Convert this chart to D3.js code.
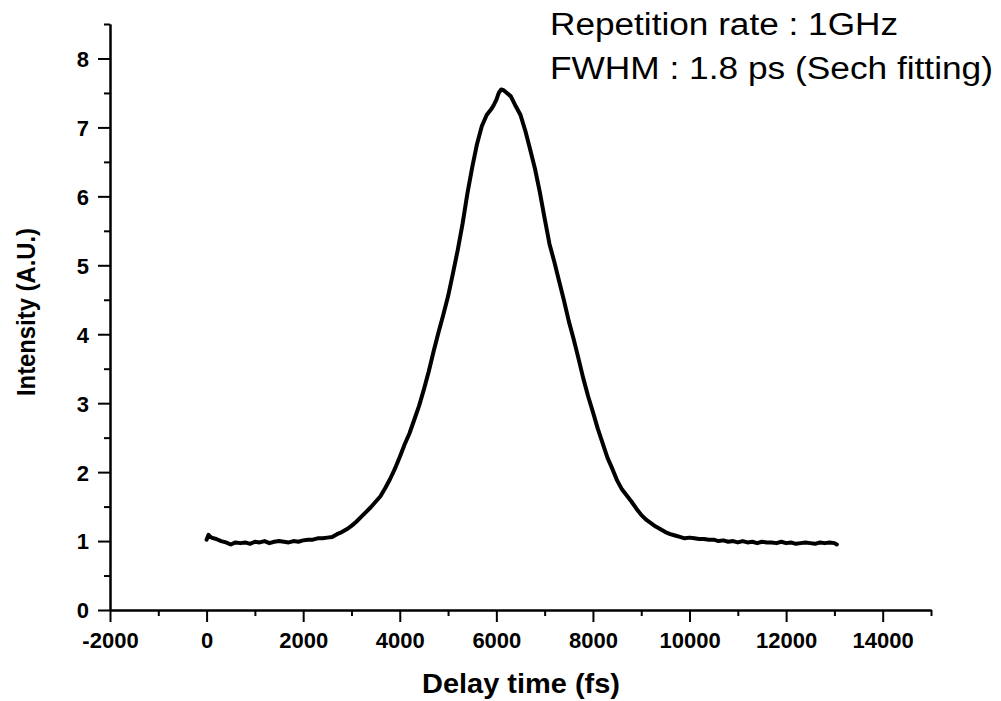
<!DOCTYPE html>
<html>
<head>
<meta charset="utf-8">
<script src="https://cdn.jsdelivr.net/npm/d3@7/dist/d3.min.js"></script>
<style>
  html, body { margin: 0; padding: 0; background: #fff; }
  svg { display: block; }
  text { font-family: "Liberation Sans", Arial, Helvetica, sans-serif; fill: #000; }
</style>
</head>
<body>
<svg id="chart" width="1001" height="701"></svg>
<script>
// Delay time (fs)
const delayTime = [0, 40, 100, 200, 300, 400, 500, 600, 700, 800, 900, 1000, 1100, 1200, 1300, 1400, 1500, 1600, 1700, 1800, 1900,
  2000, 2100, 2200, 2300, 2400, 2500, 2600, 2700, 2800, 2900, 3000, 3100, 3200, 3300, 3400, 3500, 3600, 3700, 3800, 3900,
  4000, 4100, 4200, 4300, 4400, 4500, 4600, 4700, 4800, 4900, 5000, 5100, 5200, 5300, 5400, 5500, 5600, 5700, 5800, 5900,
  5950, 6000, 6050, 6100, 6150, 6200, 6300, 6400, 6500, 6600, 6700, 6800, 6900, 7000, 7100, 7200, 7300, 7400, 7500, 7600,
  7700, 7800, 7900, 8000, 8100, 8200, 8300, 8400, 8500, 8600, 8700, 8800, 8900, 9000, 9100, 9200, 9300, 9400, 9500, 9600,
  9700, 9800, 9900, 10000, 10100, 10200, 10300, 10400, 10500, 10600, 10700, 10800, 10900, 11000, 11100, 11200, 11300, 11400,
  11500, 11600, 11700, 11800, 11900, 12000, 12100, 12200, 12300, 12400, 12500, 12600, 12700, 12800, 12900, 13000, 13050];
// Intensity (A.U.)
const intensity = [1.02, 1.09, 1.05, 1.03, 1.00, 0.98, 0.95, 0.98, 0.97, 0.98, 0.96, 0.99, 0.98, 1.00, 0.97, 0.99, 1.00, 0.99, 0.98, 1.00, 0.99,
  1.01, 1.02, 1.02, 1.04, 1.04, 1.05, 1.06, 1.10, 1.13, 1.17, 1.22, 1.28, 1.35, 1.42, 1.49, 1.57, 1.65, 1.77, 1.90, 2.05,
  2.22, 2.40, 2.56, 2.76, 2.96, 3.20, 3.46, 3.75, 4.02, 4.28, 4.55, 4.88, 5.22, 5.60, 6.04, 6.42, 6.76, 7.02, 7.18, 7.27,
  7.33, 7.40, 7.50, 7.55, 7.54, 7.51, 7.45, 7.31, 7.18, 6.95, 6.68, 6.40, 6.06, 5.68, 5.31, 5.05, 4.77, 4.49, 4.19, 3.93,
  3.65, 3.36, 3.10, 2.87, 2.63, 2.42, 2.21, 2.05, 1.88, 1.75, 1.66, 1.57, 1.47, 1.38, 1.31, 1.26, 1.21, 1.17, 1.13, 1.10,
  1.08, 1.06, 1.04, 1.05, 1.04, 1.03, 1.03, 1.02, 1.02, 1.00, 1.01, 0.99, 1.00, 0.98, 1.00, 0.98, 0.99, 0.97,
  0.99, 0.98, 0.98, 0.97, 0.99, 0.97, 0.98, 0.96, 0.97, 0.98, 0.97, 0.96, 0.98, 0.97, 0.98, 0.97, 0.95];

const xMajorTicks = [-2000, 0, 2000, 4000, 6000, 8000, 10000, 12000, 14000];
const xMinorTicks = [-1000, 1000, 3000, 5000, 7000, 9000, 11000, 13000, 15000];
const yMajorTicks = [0, 1, 2, 3, 4, 5, 6, 7, 8];
const yMinorTicks = [0.5, 1.5, 2.5, 3.5, 4.5, 5.5, 6.5, 7.5, 8.5];
const xTitle = "Delay time (fs)";
const yTitle = "Intensity (A.U.)";
const notes = ["Repetition rate : 1GHz", "FWHM : 1.8 ps (Sech fitting)"];

const svg = d3.select("#chart");
const mLeft = 110, mRight = 931, mTop = 24, mBottom = 610;

const x = d3.scaleLinear().domain([-2000, 15000]).range([mLeft, mRight]);
const y = d3.scaleLinear().domain([0, 8.5]).range([mBottom, mTop]);

function styleAxis(g) {
  g.selectAll("path.domain").attr("stroke", "#000").attr("stroke-width", 2);
  g.selectAll(".tick line").attr("stroke", "#000").attr("stroke-width", 2);
}

// minor ticks
svg.append("g").attr("transform", `translate(0,${mBottom})`)
  .call(d3.axisBottom(x).tickValues(xMinorTicks).tickSize(6).tickSizeOuter(0).tickFormat(""))
  .call(styleAxis);
svg.append("g").attr("transform", `translate(${mLeft},0)`)
  .call(d3.axisLeft(y).tickValues(yMinorTicks).tickSize(6).tickSizeOuter(0).tickFormat(""))
  .call(styleAxis);

// major ticks
const plainFmt = d => String(d);
const gx = svg.append("g").attr("transform", `translate(0,${mBottom})`)
  .call(d3.axisBottom(x).tickValues(xMajorTicks).tickSize(12).tickSizeOuter(0).tickFormat(plainFmt))
  .call(styleAxis);
gx.selectAll(".tick text")
  .attr("y", 38).attr("dy", 0)
  .style("font-size", "22px").style("font-weight", "bold")
  .style("font-family", "'Liberation Sans', Arial, sans-serif").attr("fill", "#000");

const gy = svg.append("g").attr("transform", `translate(${mLeft},0)`)
  .call(d3.axisLeft(y).tickValues(yMajorTicks).tickSize(12).tickSizeOuter(0).tickFormat(plainFmt))
  .call(styleAxis);
gy.selectAll(".tick text")
  .attr("x", -21).attr("dy", "0.36em")
  .style("font-size", "22px").style("font-weight", "bold")
  .style("font-family", "'Liberation Sans', Arial, sans-serif").attr("fill", "#000");

// data line
const data = delayTime.map((d, i) => ({ t: d, v: intensity[i] }));
svg.append("path")
  .datum(data)
  .attr("fill", "none")
  .attr("stroke", "#000")
  .attr("stroke-width", 4)
  .attr("stroke-linejoin", "round")
  .attr("stroke-linecap", "round")
  .attr("d", d3.line().x(d => x(d.t)).y(d => y(d.v)));

// axis titles
svg.append("text")
  .attr("x", (mLeft + mRight) / 2 + 0.5).attr("y", 693)
  .attr("text-anchor", "middle")
  .attr("textLength", 198).attr("lengthAdjust", "spacingAndGlyphs")
  .style("font-size", "28px").style("font-weight", "bold")
  .text(xTitle);

svg.append("text")
  .attr("transform", "translate(35,312) rotate(-90)")
  .attr("text-anchor", "middle")
  .attr("textLength", 168).attr("lengthAdjust", "spacingAndGlyphs")
  .style("font-size", "26px").style("font-weight", "bold")
  .text(yTitle);

// annotations
svg.append("text")
  .attr("x", 550).attr("y", 35)
  .attr("textLength", 348).attr("lengthAdjust", "spacingAndGlyphs")
  .style("font-size", "31px")
  .text(notes[0]);
svg.append("text")
  .attr("x", 550).attr("y", 79)
  .attr("textLength", 443).attr("lengthAdjust", "spacingAndGlyphs")
  .style("font-size", "31px")
  .text(notes[1]);
</script>
</body>
</html>
